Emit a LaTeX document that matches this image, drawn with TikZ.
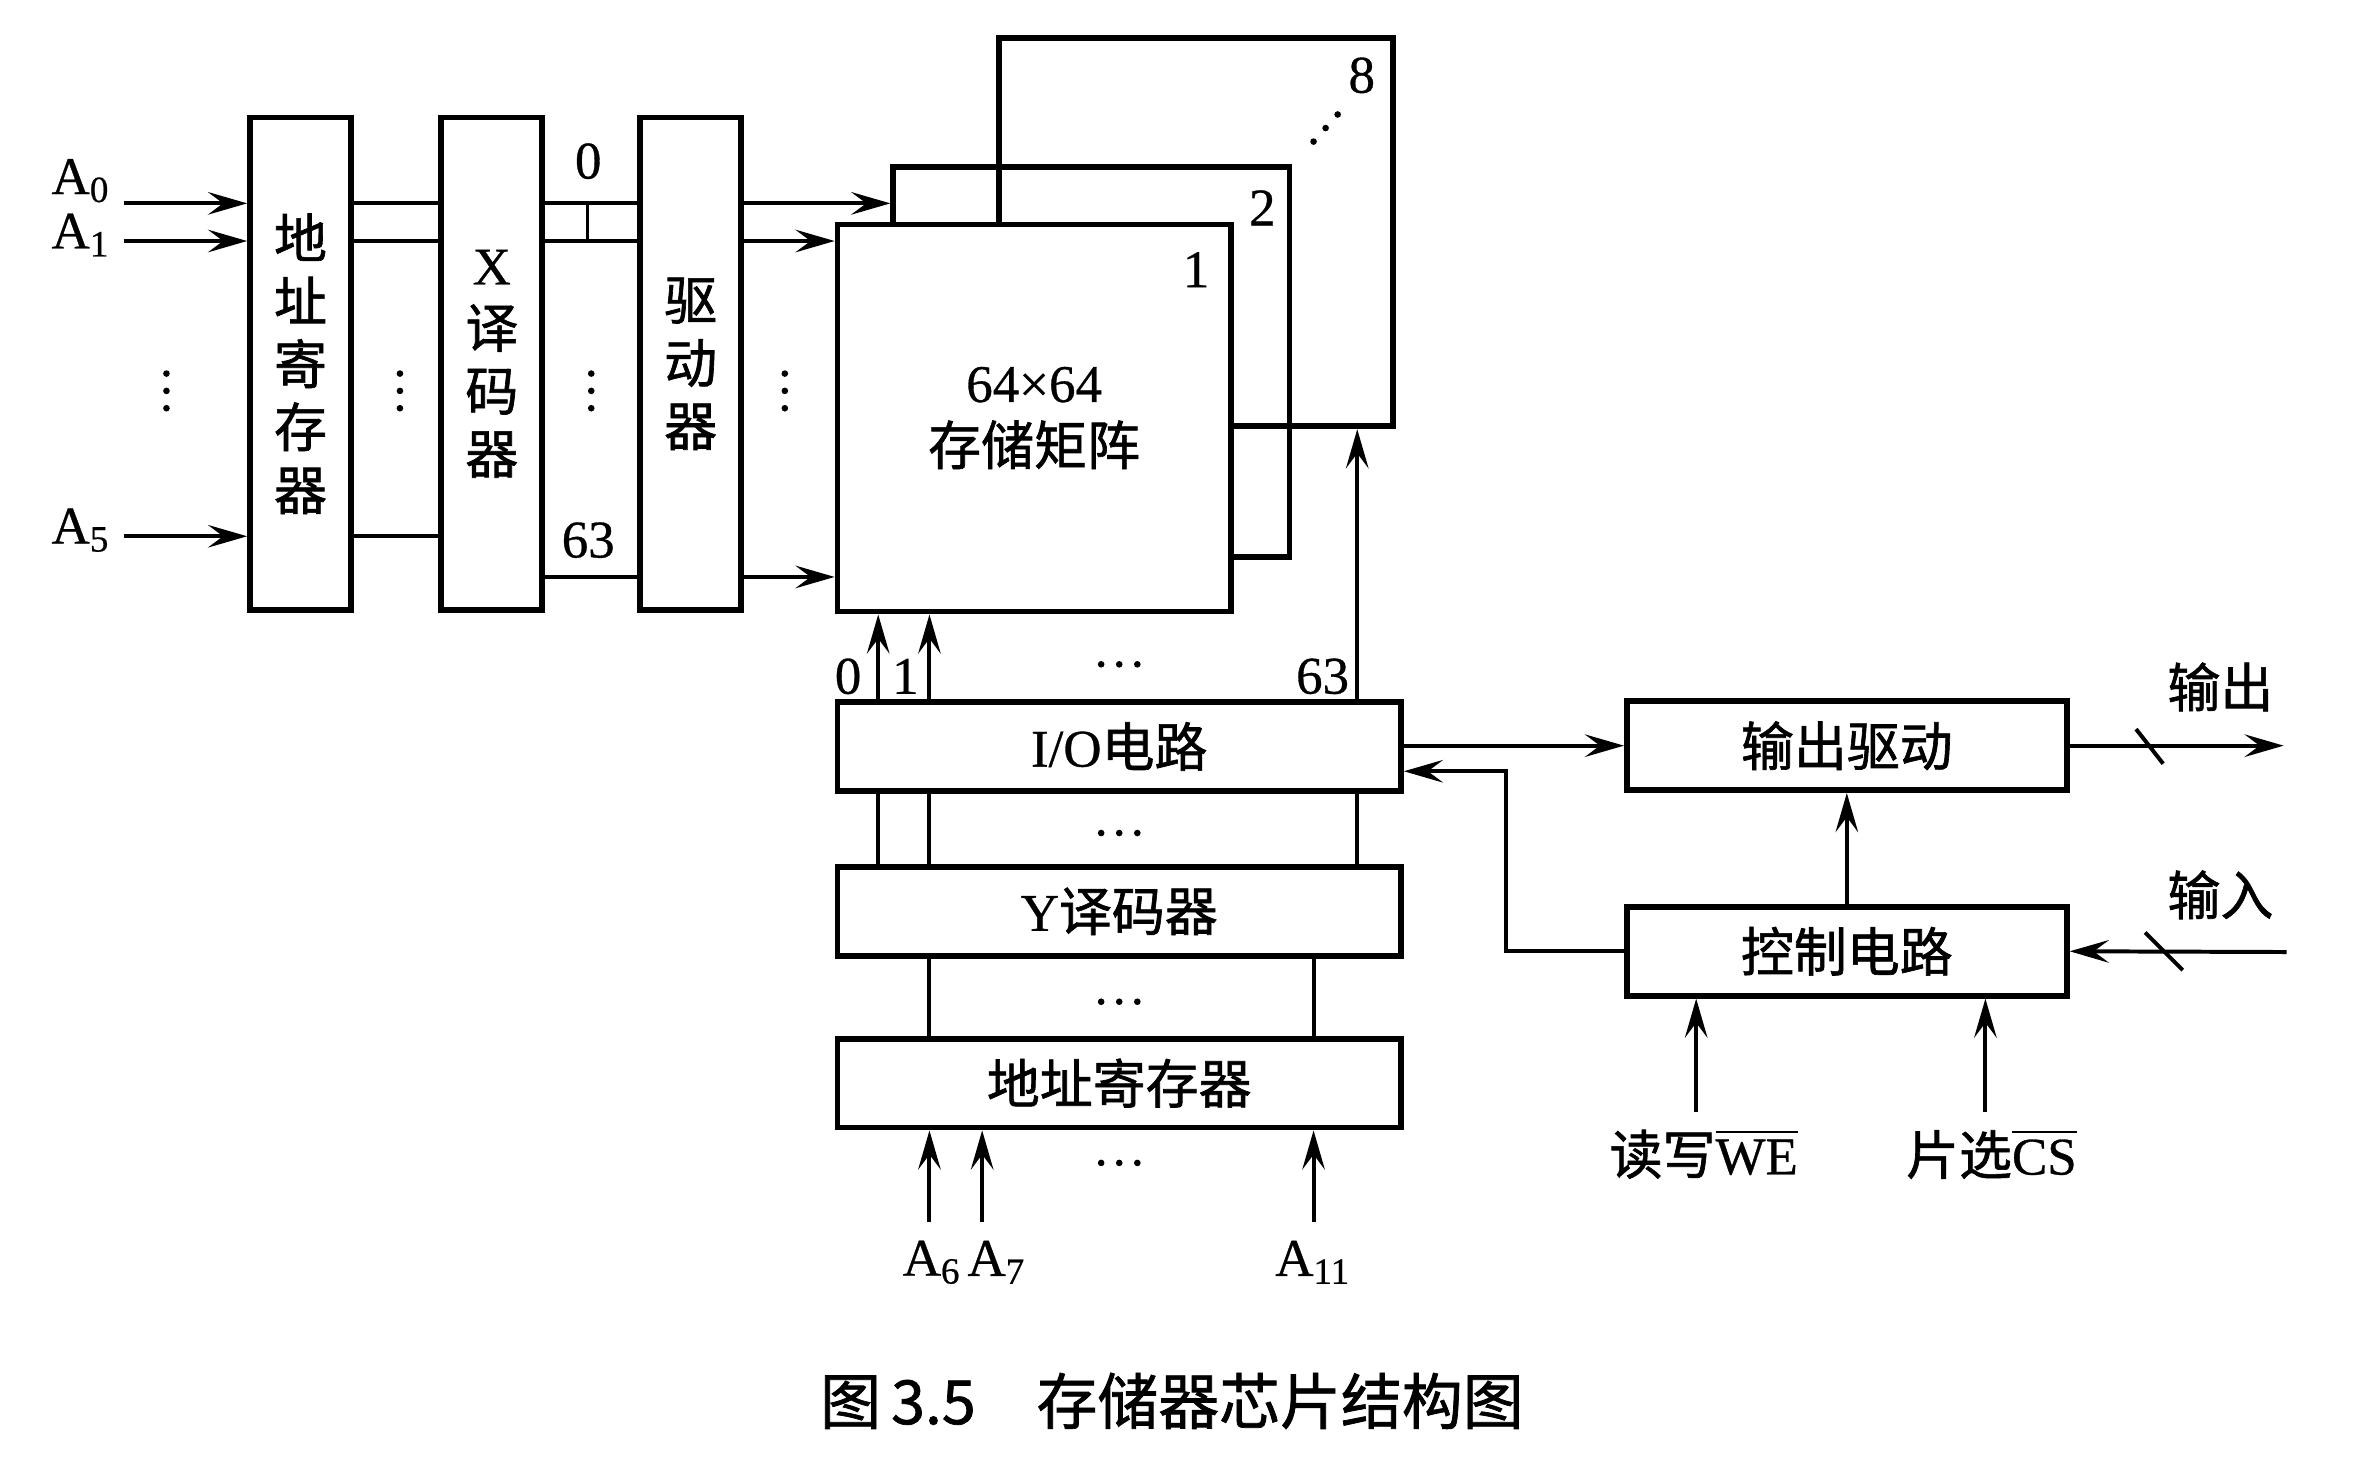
\documentclass[tikz,border=0pt]{standalone}
\usepackage{fontspec}
\setmainfont[FakeBold=0.6,AutoFakeBold=0.6]{Liberation Serif}
\newfontfamily\cjk[FakeBold=1.2]{Noto Sans CJK SC}
\usetikzlibrary{arrows.meta,positioning,calc}

\tikzset{
  box/.style={draw, line width=1.1pt, inner sep=0pt},
  vbox/.style={box, minimum width=6.7mm, minimum height=32.7mm, align=center},
  hbox/.style={box, minimum width=37.4mm, minimum height=5.9mm},
  cbox/.style={box, minimum width=29.2mm, minimum height=5.9mm},
  conn/.style={line width=0.75pt},
  arr/.style={conn, -{Stealth[length=2.6mm,width=1.5mm,inset=1mm]}},
  zh/.style={font=\fontsize{10}{11.9}\selectfont\cjk},
}

\begin{document}
\begin{tikzpicture}[x=0.1mm,y=-0.1mm,font=\fontsize{10}{11.9}\selectfont]
\useasboundingbox (0,0) rectangle (1568,972);

% row side: register, X decoder, driver
\node[vbox, zh] (reg) at (199.5,241.5) {地\\址\\寄\\存\\器};
\node[vbox] (xdec) at (326.5,241.5) {X\\{\cjk 译}\\{\cjk 码}\\{\cjk 器}};
\node[vbox, zh] (drv) at (458.5,241.5) {驱\\动\\器};

% storage matrices 1, 2, ..., 8
\node[box, minimum width=26.2mm, minimum height=25.8mm] (m8) at (794,154) {};
\node[box, minimum width=26.3mm, minimum height=25.9mm] (m2) at (724.5,240.5) {};
\node[box, fill=white, minimum width=26.1mm, minimum height=25.7mm, align=center] (m1) at (686.5,277.5) {64×64\\{\cjk 存储矩阵}};
\node (n1) at (794,179) {1};
\node (n2) at (838,138) {2};
\node (n8) at (904,50) {8};
\foreach \x/\y in {872/94,880/85,888/76} \fill (\x,\y) circle (0.22mm);

% column side
\node[hbox] (io) at (743,495.5) {I/O{\cjk 电路}};
\node[hbox] (ydec) at (743,605) {Y{\cjk 译码器}};
\node[hbox, zh] (areg) at (743,719) {地址寄存器};
\node[cbox, zh] (odrv) at (1226,495) {输出驱动};
\node[cbox, zh] (ctrl) at (1226,631.5) {控制电路};

% address inputs A0..A5
\node (a0) at (54,120) {A\textsubscript{0}};
\node (a1) at (54,156) {A\textsubscript{1}};
\node (a5) at (54,352) {A\textsubscript{5}};
\coordinate (a0s) at (82,135);
\coordinate (a1s) at (82,160);
\coordinate (a5s) at (82,356);
\draw[arr] (a0s) -- (a0s -| reg.west);
\draw[arr] (a1s) -- (a1s -| reg.west);
\draw[arr] (a5s) -- (a5s -| reg.west);

\coordinate (r0) at (0,135);
\coordinate (r1) at (0,160);
\coordinate (r5) at (0,356);
\coordinate (r63) at (0,383);
\coordinate (t) at (390,0);
\draw[conn] (reg.east |- r0) -- (xdec.west |- r0);
\draw[conn] (reg.east |- r1) -- (xdec.west |- r1);
\draw[conn] (reg.east |- r5) -- (xdec.west |- r5);
\draw[conn] (xdec.east |- r0) -- (drv.west |- r0);
\draw[conn] (xdec.east |- r1) -- (drv.west |- r1);
\draw[conn] (xdec.east |- r63) -- (drv.west |- r63);
\draw[conn] (t |- r0) -- (t |- r1);
\node (x0) at (390.5,107) {0};
\node (x63) at (390.5,358.6) {63};
\draw[arr] (drv.east |- r0) -- (m2.west |- r0);
\draw[arr] (drv.east |- r1) -- (m1.west |- r1);
\draw[arr] (drv.east |- r63) -- (m1.west |- r63);
\foreach \x in {110.5,265.5,392.5,521}
  \foreach \y in {248,259.5,271} \fill (\x,\y) circle (0.22mm);

% columns 0, 1, ..., 63
\coordinate (c0) at (583,0);
\coordinate (c1) at (617,0);
\coordinate (c7) at (652,0);
\coordinate (c11) at (872,0);
\coordinate (c63) at (901,0);
\draw[arr] (io.north -| c0) -- (m1.south -| c0);
\draw[arr] (io.north -| c1) -- (m1.south -| c1);
\draw[arr] (io.north -| c63) -- (m8.south -| c63);
\node (k0) at (563,449) {0};
\node (k1) at (601,449) {1};
\node (k63) at (878,449) {63};
\draw[conn] (io.south -| c0) -- (ydec.north -| c0);
\draw[conn] (io.south -| c1) -- (ydec.north -| c1);
\draw[conn] (io.south -| c63) -- (ydec.north -| c63);
\draw[conn] (ydec.south -| c1) -- (areg.north -| c1);
\draw[conn] (ydec.south -| c11) -- (areg.north -| c11);
\foreach \y in {441,553,665,772}
  \foreach \x in {731,743,755} \fill (\x,\y) circle (0.22mm);

% address inputs A6..A11
\node (a6) at (619,838) {A\textsubscript{6}};
\node (a7) at (662,838) {A\textsubscript{7}};
\node (a11) at (872,838) {A\textsubscript{11}};
\draw[arr] (a6.north -| c1) -- (areg.south -| c1);
\draw[arr] (a7.north -| c7) -- (areg.south -| c7);
\draw[arr] (a11.north -| c11) -- (areg.south -| c11);

% control and data in/out
\coordinate (bend) at (1000,512);
\draw[arr] (io.east |- odrv.west) -- (odrv.west);
\draw[arr] (ctrl.west) -- (ctrl.west -| bend) -- (bend) -- (bend -| io.east);
\draw[arr] (ctrl.north) -- (odrv.south);
\coordinate (outend) at (1516,495);
\coordinate (inbeg) at (1518,632);
\draw[arr] (odrv.east) -- (outend);
\draw[arr] (inbeg) -- (ctrl.east);
\draw[conn] (1418,484) -- (1436,507);
\draw[conn] (1424,619) -- (1449,644);
\node[zh] (out) at (1474,456) {输出};
\node[zh] (in) at (1474,594) {输入};
\node (we) at (1131,766) {{\cjk 读写}$\overline{\hbox{WE}}$};
\node (cs) at (1322,766) {{\cjk 片选}$\overline{\hbox{CS}}$};
\coordinate (wein) at (1126,738);
\coordinate (csin) at (1318,738);
\draw[arr] (wein) -- (wein |- ctrl.south);
\draw[arr] (csin) -- (csin |- ctrl.south);

\node[font=\fontsize{11.5}{14}\selectfont\cjk] (cap) at (778,930) {图\,3.5\quad 存储器芯片结构图};
\end{tikzpicture}
\end{document}
